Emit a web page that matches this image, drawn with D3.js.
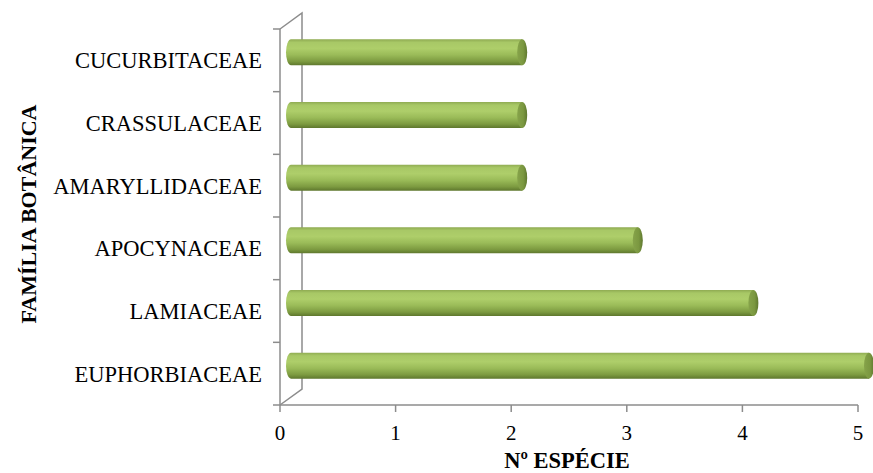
<!DOCTYPE html>
<html>
<head>
<meta charset="utf-8">
<script src="https://cdn.jsdelivr.net/npm/d3@7"></script>
<style>
  html, body { margin: 0; padding: 0; background: #fff; }
  svg { display: block; }
  text { font-family: "Liberation Serif", "Times New Roman", serif; fill: #000; }
</style>
</head>
<body>
<svg id="chart" width="873" height="473"></svg>
<script>
// Families (top to bottom) and number of species
const families = ["CUCURBITACEAE", "CRASSULACEAE", "AMARYLLIDACEAE", "APOCYNACEAE", "LAMIACEAE", "EUPHORBIACEAE"];
const species = [2, 2, 2, 3, 4, 5];
const xTicks = [0, 1, 2, 3, 4, 5];
const xTitle = "Nº ESPÉCIE";
const yTitle = "FAMÍLIA BOTÂNICA";

const svg = d3.select("#chart");
const axisColor = "#8c8c8c";

// depth of the 3-D box (back wall offset)
const depth = { dx: 22, dy: -16 };

const x = d3.scaleLinear().domain([0, 5]).range([280, 858]);
const y = d3.scaleBand().domain(families).range([29, 405]);

// gradient for the cylinder body
const defs = svg.append("defs");
const grad = defs.append("linearGradient")
  .attr("id", "cyl").attr("x1", 0).attr("y1", 0).attr("x2", 0).attr("y2", 1);
[[0, "#8fab52"], [0.12, "#a8c866"], [0.35, "#aece6a"], [0.6, "#9abb58"], [0.85, "#7c9a40"], [1, "#5e772d"]]
  .forEach(([o, c]) => grad.append("stop").attr("offset", o).attr("stop-color", c));
const capGrad = defs.append("linearGradient")
  .attr("id", "cap").attr("x1", 0).attr("y1", 0).attr("x2", 1).attr("y2", 0);
[[0, "#86a34a"], [0.6, "#7b9840"], [1, "#5f7830"]]
  .forEach(([o, c]) => capGrad.append("stop").attr("offset", o).attr("stop-color", c));

// back wall and floor edges
const x0 = x(0), yTop = y.range()[0], yBot = y.range()[1];
svg.append("path")
  .attr("d", `M${x0},${yTop} L${x0 + depth.dx},${yTop + depth.dy} L${x0 + depth.dx},${yBot + depth.dy} L${x0},${yBot}`)
  .attr("fill", "none").attr("stroke", axisColor).attr("stroke-width", 1.5);

// front axes
svg.append("line")
  .attr("x1", x0).attr("x2", x0).attr("y1", yTop).attr("y2", yBot)
  .attr("stroke", axisColor).attr("stroke-width", 1.5);
svg.append("line")
  .attr("x1", x0).attr("x2", x(5)).attr("y1", yBot).attr("y2", yBot)
  .attr("stroke", axisColor).attr("stroke-width", 1.5);

// category boundary ticks on the vertical axis
const bounds = families.map(f => y(f)).concat([yBot]);
svg.selectAll(".ytick").data(bounds).enter().append("line")
  .attr("x1", x0 - 7).attr("x2", x0).attr("y1", d => d).attr("y2", d => d)
  .attr("stroke", axisColor).attr("stroke-width", 1.5);

// value ticks and labels
svg.selectAll(".xtick").data(xTicks).enter().append("line")
  .attr("x1", d => x(d)).attr("x2", d => x(d)).attr("y1", yBot).attr("y2", yBot + 7)
  .attr("stroke", axisColor).attr("stroke-width", 1.5);
svg.selectAll(".xlabel").data(xTicks).enter().append("text")
  .attr("x", d => x(d)).attr("y", 440)
  .attr("text-anchor", "middle").style("font-size", "21px")
  .text(d => d);

// category labels
svg.selectAll(".ylabel").data(families).enter().append("text")
  .attr("x", 262).attr("y", d => y(d) + y.bandwidth() / 2)
  .attr("dy", "0.35em").attr("text-anchor", "end").style("font-size", "22.5px")
  .text(d => d);

// cylinders, placed at mid depth
const barH = 26, capRx = 5;
const bars = svg.selectAll(".bar").data(families.map((f, i) => ({ f, v: species[i] })))
  .enter().append("g")
  .attr("transform", d => `translate(${depth.dx / 2},${y(d.f) + y.bandwidth() / 2 + depth.dy / 2})`);
bars.append("path")
  .attr("d", d => {
    const a = x(0), b = x(d.v), h = barH / 2;
    return `M${b},${-h} L${a},${-h} A${capRx},${h} 0 0 0 ${a},${h} L${b},${h} Z`;
  })
  .attr("fill", "url(#cyl)");
bars.append("ellipse")
  .attr("cx", d => x(d.v)).attr("cy", 0).attr("rx", capRx).attr("ry", barH / 2)
  .attr("fill", "url(#cap)");

// axis titles
svg.append("text")
  .attr("x", 567).attr("y", 468).attr("text-anchor", "middle")
  .style("font-size", "22.5px").style("font-weight", "bold")
  .text(xTitle);
svg.append("text")
  .attr("transform", "translate(36,214) rotate(-90)")
  .attr("text-anchor", "middle")
  .style("font-size", "22px").style("font-weight", "bold")
  .text(yTitle);
</script>
</body>
</html>
